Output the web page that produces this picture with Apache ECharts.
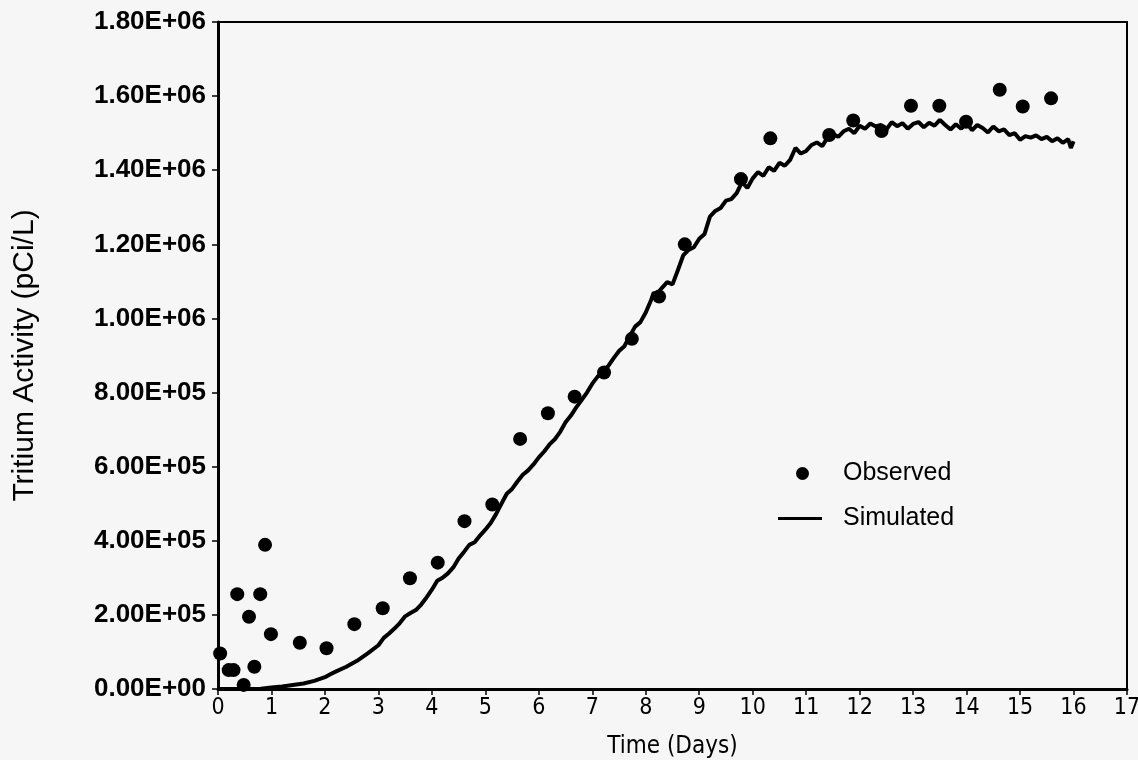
<!DOCTYPE html>
<html>
<head>
<meta charset="utf-8">
<script src="https://cdn.jsdelivr.net/npm/echarts@6/dist/echarts.min.js"></script>
<style>
  html, body { margin: 0; padding: 0; background: #f6f6f6; }
  #chart { width: 1138px; height: 760px; }
</style>
</head>
<body>
<div id="chart"></div>
<script>
// observed samples: day, activity (thousand pCi/L)
var obsDays = [0.04, 0.20, 0.29, 0.36, 0.48, 0.58, 0.68, 0.79, 0.88, 0.99, 1.53, 2.03, 2.55, 3.08, 3.59, 4.11, 4.61, 5.13, 5.65, 6.17, 6.67, 7.22, 7.74, 8.25, 8.73, 9.78, 10.33, 11.43, 11.88, 12.41, 12.96, 13.49, 13.99, 14.62, 15.05, 15.58];
var obsActivity = [96, 51, 51, 256, 11, 195, 60, 256, 389, 148, 125, 110, 175, 218, 299, 341, 453, 498, 675, 744, 789, 854, 945, 1059, 1200, 1376, 1486, 1495, 1534, 1506, 1574, 1574, 1531, 1617, 1572, 1594];

// simulated curve
var simDays = [0, 0.2, 0.4, 0.6, 0.8, 1.0, 1.2, 1.4, 1.6, 1.8, 2.0, 2.1, 2.2, 2.4, 2.6, 2.8, 3.0, 3.1, 3.2, 3.3, 3.4, 3.5, 3.6, 3.7, 3.8, 3.9,
  4.0, 4.1, 4.2, 4.3, 4.4, 4.5, 4.6, 4.7, 4.8, 4.9, 5.0, 5.1, 5.2, 5.3, 5.4, 5.5, 5.6, 5.7, 5.8, 5.9,
  6.0, 6.1, 6.2, 6.3, 6.4, 6.5, 6.6, 6.7, 6.8, 6.9, 7.0, 7.1, 7.2, 7.3, 7.4, 7.5, 7.6, 7.7, 7.8, 7.9,
  8.0, 8.1, 8.15, 8.2, 8.3, 8.4, 8.5, 8.6, 8.7, 8.8, 8.9, 9.0, 9.1, 9.2, 9.3, 9.4, 9.5, 9.6, 9.7, 9.8, 9.9,
  10.0, 10.1, 10.2, 10.3, 10.4, 10.5, 10.6, 10.7, 10.8, 10.9, 11.0, 11.1, 11.2, 11.3, 11.4, 11.5, 11.6, 11.7, 11.8, 11.9,
  12.0, 12.1, 12.2, 12.3, 12.4, 12.5, 12.6, 12.7, 12.8, 12.9, 13.0, 13.1, 13.2, 13.3, 13.4, 13.5, 13.6, 13.7, 13.8, 13.9,
  14.0, 14.1, 14.2, 14.3, 14.4, 14.5, 14.6, 14.7, 14.8, 14.9, 15.0, 15.1, 15.2, 15.3, 15.4, 15.5, 15.6, 15.7, 15.8, 15.9, 15.95, 16.0];
var simActivity = [0, 0, 0, 0, 1, 4, 7, 11, 15, 22, 32, 40, 47, 60, 76, 96, 118, 138, 150, 163, 178, 196, 205, 213, 228, 247,
  268, 292, 300, 312, 328, 352, 370, 389, 396, 414, 430, 448, 472, 500, 527, 540, 560, 578, 590, 606,
  625, 641, 660, 674, 694, 720, 738, 760, 780, 800, 824, 843, 858, 872, 893, 912, 925, 952, 978, 990,
  1016, 1050, 1070, 1064, 1082, 1098, 1092, 1130, 1170, 1185, 1192, 1215, 1228, 1275, 1290, 1298, 1318, 1322, 1338, 1368, 1352,
  1378, 1395, 1385, 1408, 1398, 1420, 1412, 1428, 1460, 1445, 1452, 1468, 1475, 1465, 1488, 1498, 1490, 1505, 1512, 1500,
  1520, 1512, 1526, 1518, 1522, 1510, 1530, 1519, 1527, 1512, 1525, 1530, 1516, 1528, 1520, 1536, 1522, 1510, 1524, 1512,
  1528, 1508, 1522, 1514, 1502, 1518, 1505, 1510, 1495, 1500, 1482, 1492, 1488, 1494, 1484, 1490, 1478, 1486, 1474, 1484, 1460, 1478];

var yTickLabels = ['0.00E+00', '2.00E+05', '4.00E+05', '6.00E+05', '8.00E+05', '1.00E+06', '1.20E+06', '1.40E+06', '1.60E+06', '1.80E+06'];

var observed = obsDays.map(function (d, i) { return [d, obsActivity[i] * 1000]; });
var simulated = simDays.map(function (d, i) { return [d, simActivity[i] * 1000]; });

var narrow = '"DejaVu Sans Condensed", "Liberation Sans Narrow", "Liberation Sans", sans-serif';
var sans = '"Liberation Sans", Arial, sans-serif';

var chart = echarts.init(document.getElementById('chart'));
var option = {
  backgroundColor: '#f6f6f6',
  animation: false,
  grid: {
    left: 218, right: 11, top: 22, bottom: 71,
    outerBoundsMode: 'none',
    show: true, borderColor: '#000', borderWidth: 2, backgroundColor: 'transparent'
  },
  legend: [
    {
      data: [{ name: 'Observed', icon: 'circle' }],
      left: 791, top: 456, itemWidth: 13, itemHeight: 13,
      selectedMode: false,
      textStyle: { fontFamily: sans, fontSize: 25, color: '#000', padding: [0, 0, 0, 29] }
    },
    {
      data: [{ name: 'Simulated', icon: 'rect' }],
      left: 773, top: 501, itemWidth: 44, itemHeight: 3,
      selectedMode: false,
      textStyle: { fontFamily: sans, fontSize: 25, color: '#000', padding: [0, 0, 0, 16] }
    }
  ],
  xAxis: {
    type: 'value', min: 0, max: 17, interval: 1,
    name: 'Time (Days)', nameLocation: 'middle', nameGap: 46,
    nameTextStyle: { fontFamily: narrow, fontSize: 24, color: '#000' },
    axisLine: { lineStyle: { color: '#000', width: 3 } },
    axisTick: { show: true, length: 6, lineStyle: { color: '#000', width: 1.5 } },
    axisLabel: { margin: 8, fontFamily: narrow, fontSize: 23, color: '#000' },
    splitLine: { show: false }
  },
  yAxis: {
    type: 'value', min: 0, max: 1800000, interval: 200000,
    name: 'Tritium Activity (pCi/L)', nameLocation: 'middle', nameGap: 178,
    nameTextStyle: { fontFamily: sans, fontSize: 30, color: '#000' },
    axisLine: { lineStyle: { color: '#000', width: 3 } },
    axisTick: { show: true, length: 6, lineStyle: { color: '#000', width: 1.5 } },
    axisLabel: {
      margin: 12, fontFamily: sans, fontSize: 26, fontWeight: 'bold', color: '#000',
      formatter: function (v) { return yTickLabels[Math.round(v / 200000)]; }
    },
    splitLine: { show: false }
  },
  series: [
    {
      name: 'Simulated', type: 'line', data: simulated,
      showSymbol: false, symbol: 'none',
      lineStyle: { color: '#000', width: 4 },
      itemStyle: { color: '#000' }, z: 2
    },
    {
      name: 'Observed', type: 'scatter', data: observed,
      symbol: 'circle', symbolSize: 14,
      itemStyle: { color: '#000', opacity: 1 }, z: 3
    }
  ]
};
chart.setOption(option);
</script>
</body>
</html>
